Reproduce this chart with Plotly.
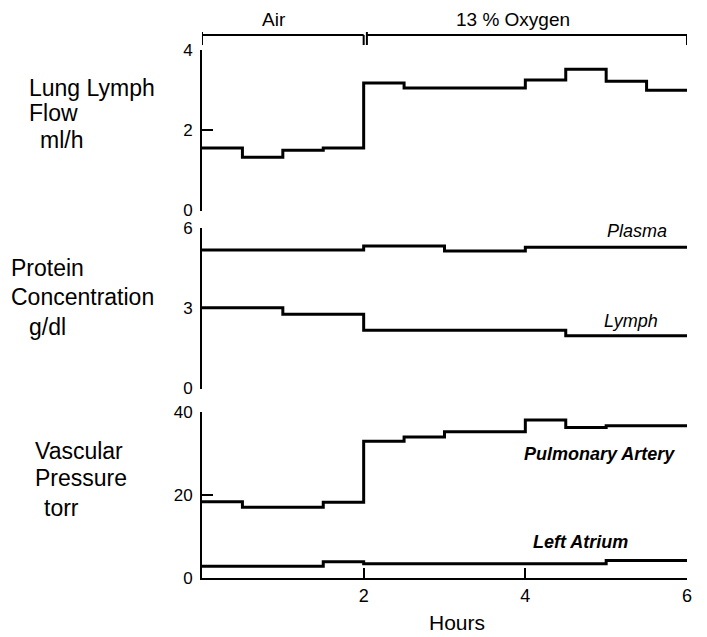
import plotly.graph_objects as go

# ---- data ----
flow_hours = [0, 0.5, 1.0, 1.5, 2.0, 2.5, 4.0, 4.5, 5.0, 5.5, 6.0]
flow_ml_h = [1.56, 1.33, 1.50, 1.56, 3.18, 3.05, 3.25, 3.52, 3.22, 3.00, 3.00]

plasma_hours = [0, 2, 3, 4, 6]
plasma_g_dl = [5.18, 5.33, 5.14, 5.28, 5.28]
lymph_hours = [0, 1, 2, 4.5, 6]
lymph_g_dl = [3.02, 2.78, 2.18, 1.97, 1.97]

pa_hours = [0, 0.5, 1.5, 2, 2.5, 3, 4, 4.5, 5, 6]
pa_torr = [18.35, 17.0, 18.2, 32.9, 33.9, 35.2, 38.0, 36.2, 36.6, 36.6]
la_hours = [0, 1.5, 2, 5, 6]
la_torr = [2.83, 3.9, 3.4, 4.2, 4.2]

phases = [("Air", 0, 2), ("13 % Oxygen", 2, 6)]

x_ticks = [0, 2, 4, 6]
x_ticktext = ["", "2", "4", "6"]
flow_ticks = [0, 2, 4]
prot_ticks = [0, 3, 6]
press_ticks = [0, 20, 40]

FONT = "Liberation Sans"
W, H = 707, 637
ML, MR, MT, MB = 202, 20, 50, 59
PW, PH = W - ML - MR, H - MT - MB


def py(pixel_y):
    return (H - MB - pixel_y) / PH


def px(pixel_x):
    return (pixel_x - ML) / PW


fig = go.Figure()
line = dict(color="black", width=3, shape="hv")
fig.add_trace(go.Scatter(x=flow_hours, y=flow_ml_h, mode="lines", line=line, xaxis="x", yaxis="y"))
fig.add_trace(go.Scatter(x=plasma_hours, y=plasma_g_dl, mode="lines", line=line, xaxis="x2", yaxis="y2"))
fig.add_trace(go.Scatter(x=lymph_hours, y=lymph_g_dl, mode="lines", line=line, xaxis="x2", yaxis="y2"))
fig.add_trace(go.Scatter(x=pa_hours, y=pa_torr, mode="lines", line=line, xaxis="x3", yaxis="y3"))
fig.add_trace(go.Scatter(x=la_hours, y=la_torr, mode="lines", line=line, xaxis="x3", yaxis="y3"))

yax = dict(showline=True, linecolor="black", linewidth=2, ticks="inside", ticklen=11,
           tickwidth=2, tickcolor="black", showgrid=False, zeroline=False, automargin=False,
           tickfont=dict(family=FONT, size=17, color="black"), ticklabelstandoff=4)
xhidden = dict(range=[0, 6], visible=False, showgrid=False, zeroline=False, automargin=False)

fig.update_layout(
    width=W, height=H,
    margin=dict(l=ML, r=MR, t=MT, b=MB, autoexpand=False),
    paper_bgcolor="white", plot_bgcolor="white",
    showlegend=False,
    font=dict(family=FONT, color="black"),
    xaxis=dict(xhidden, anchor="y", domain=[0, 1]),
    xaxis2=dict(xhidden, anchor="y2", domain=[0, 1]),
    xaxis3=dict(range=[0, 6], anchor="y3", domain=[0, 1], showline=True, linecolor="black",
                linewidth=2, ticks="inside", ticklen=10, tickwidth=2, tickcolor="black",
                tickvals=x_ticks, ticktext=x_ticktext, showgrid=False, zeroline=False,
                automargin=False,
                tickfont=dict(family=FONT, size=18, color="black"), ticklabelstandoff=0),
    yaxis=dict(yax, range=[0, 4], tickvals=flow_ticks, domain=[py(210.5), 1.0], anchor="x"),
    yaxis2=dict(yax, range=[0, 6], tickvals=prot_ticks, domain=[py(388.5), py(228)], anchor="x2"),
    yaxis3=dict(yax, range=[0, 40], tickvals=press_ticks, domain=[0, py(411.7)], anchor="x3"),
)

# phase brackets above the top panel
phase_label_px = [274, 513]
for (name, x0, x1), lab_x in zip(phases, phase_label_px):
    gap = 0.04 if x0 > 0 else 0.0
    fig.add_shape(type="line", xref="x", yref="paper", x0=x0 + gap, x1=x1, y0=py(35), y1=py(35),
                  line=dict(color="black", width=2))
    fig.add_shape(type="line", xref="x", yref="paper", x0=x0 + gap, x1=x0 + gap, y0=py(32), y1=py(45),
                  line=dict(color="black", width=2))
    fig.add_shape(type="line", xref="x", yref="paper", x0=x1, x1=x1, y0=py(35), y1=py(45),
                  line=dict(color="black", width=2))
    fig.add_annotation(text=name, xref="paper", yref="paper", x=px(lab_x),
                       y=py(19), yanchor="middle", xanchor="center", showarrow=False,
                       font=dict(family=FONT, size=19))

# x-axis title
fig.add_annotation(text="Hours", xref="paper", yref="paper", x=px(457), y=py(622),
                   xanchor="center", yanchor="middle", showarrow=False,
                   font=dict(family=FONT, size=21))

# left-hand panel titles
left_titles = [
    ("Lung Lymph", 27, 88), ("Flow", 27, 113), ("ml/h", 38, 140),
    ("Protein", 9, 268), ("Concentration", 9, 297), ("g/dl", 27, 327),
    ("Vascular", 33, 451), ("Pressure", 33, 478), ("torr", 42, 508),
]
for txt, lx, ly in left_titles:
    fig.add_annotation(text=txt, xref="paper", yref="paper", x=px(lx), y=py(ly),
                       xanchor="left", yanchor="middle", showarrow=False,
                       font=dict(family=FONT, size=23))

# series labels
series_labels = [
    ("<i>Plasma</i>", "x2", "y2", 5.38, 5.87),
    ("<i>Lymph</i>", "x2", "y2", 5.31, 2.52),
    ("<b><i>Pulmonary Artery</i></b>", "x3", "y3", 4.92, 29.8),
    ("<b><i>Left Atrium</i></b>", "x3", "y3", 4.68, 8.7),
]
for txt, xr, yr, lx, ly in series_labels:
    fig.add_annotation(text=txt, xref=xr, yref=yr, x=lx, y=ly, showarrow=False,
                       xanchor="center", yanchor="middle",
                       font=dict(family=FONT, size=18))

fig.write_html("out.html")
